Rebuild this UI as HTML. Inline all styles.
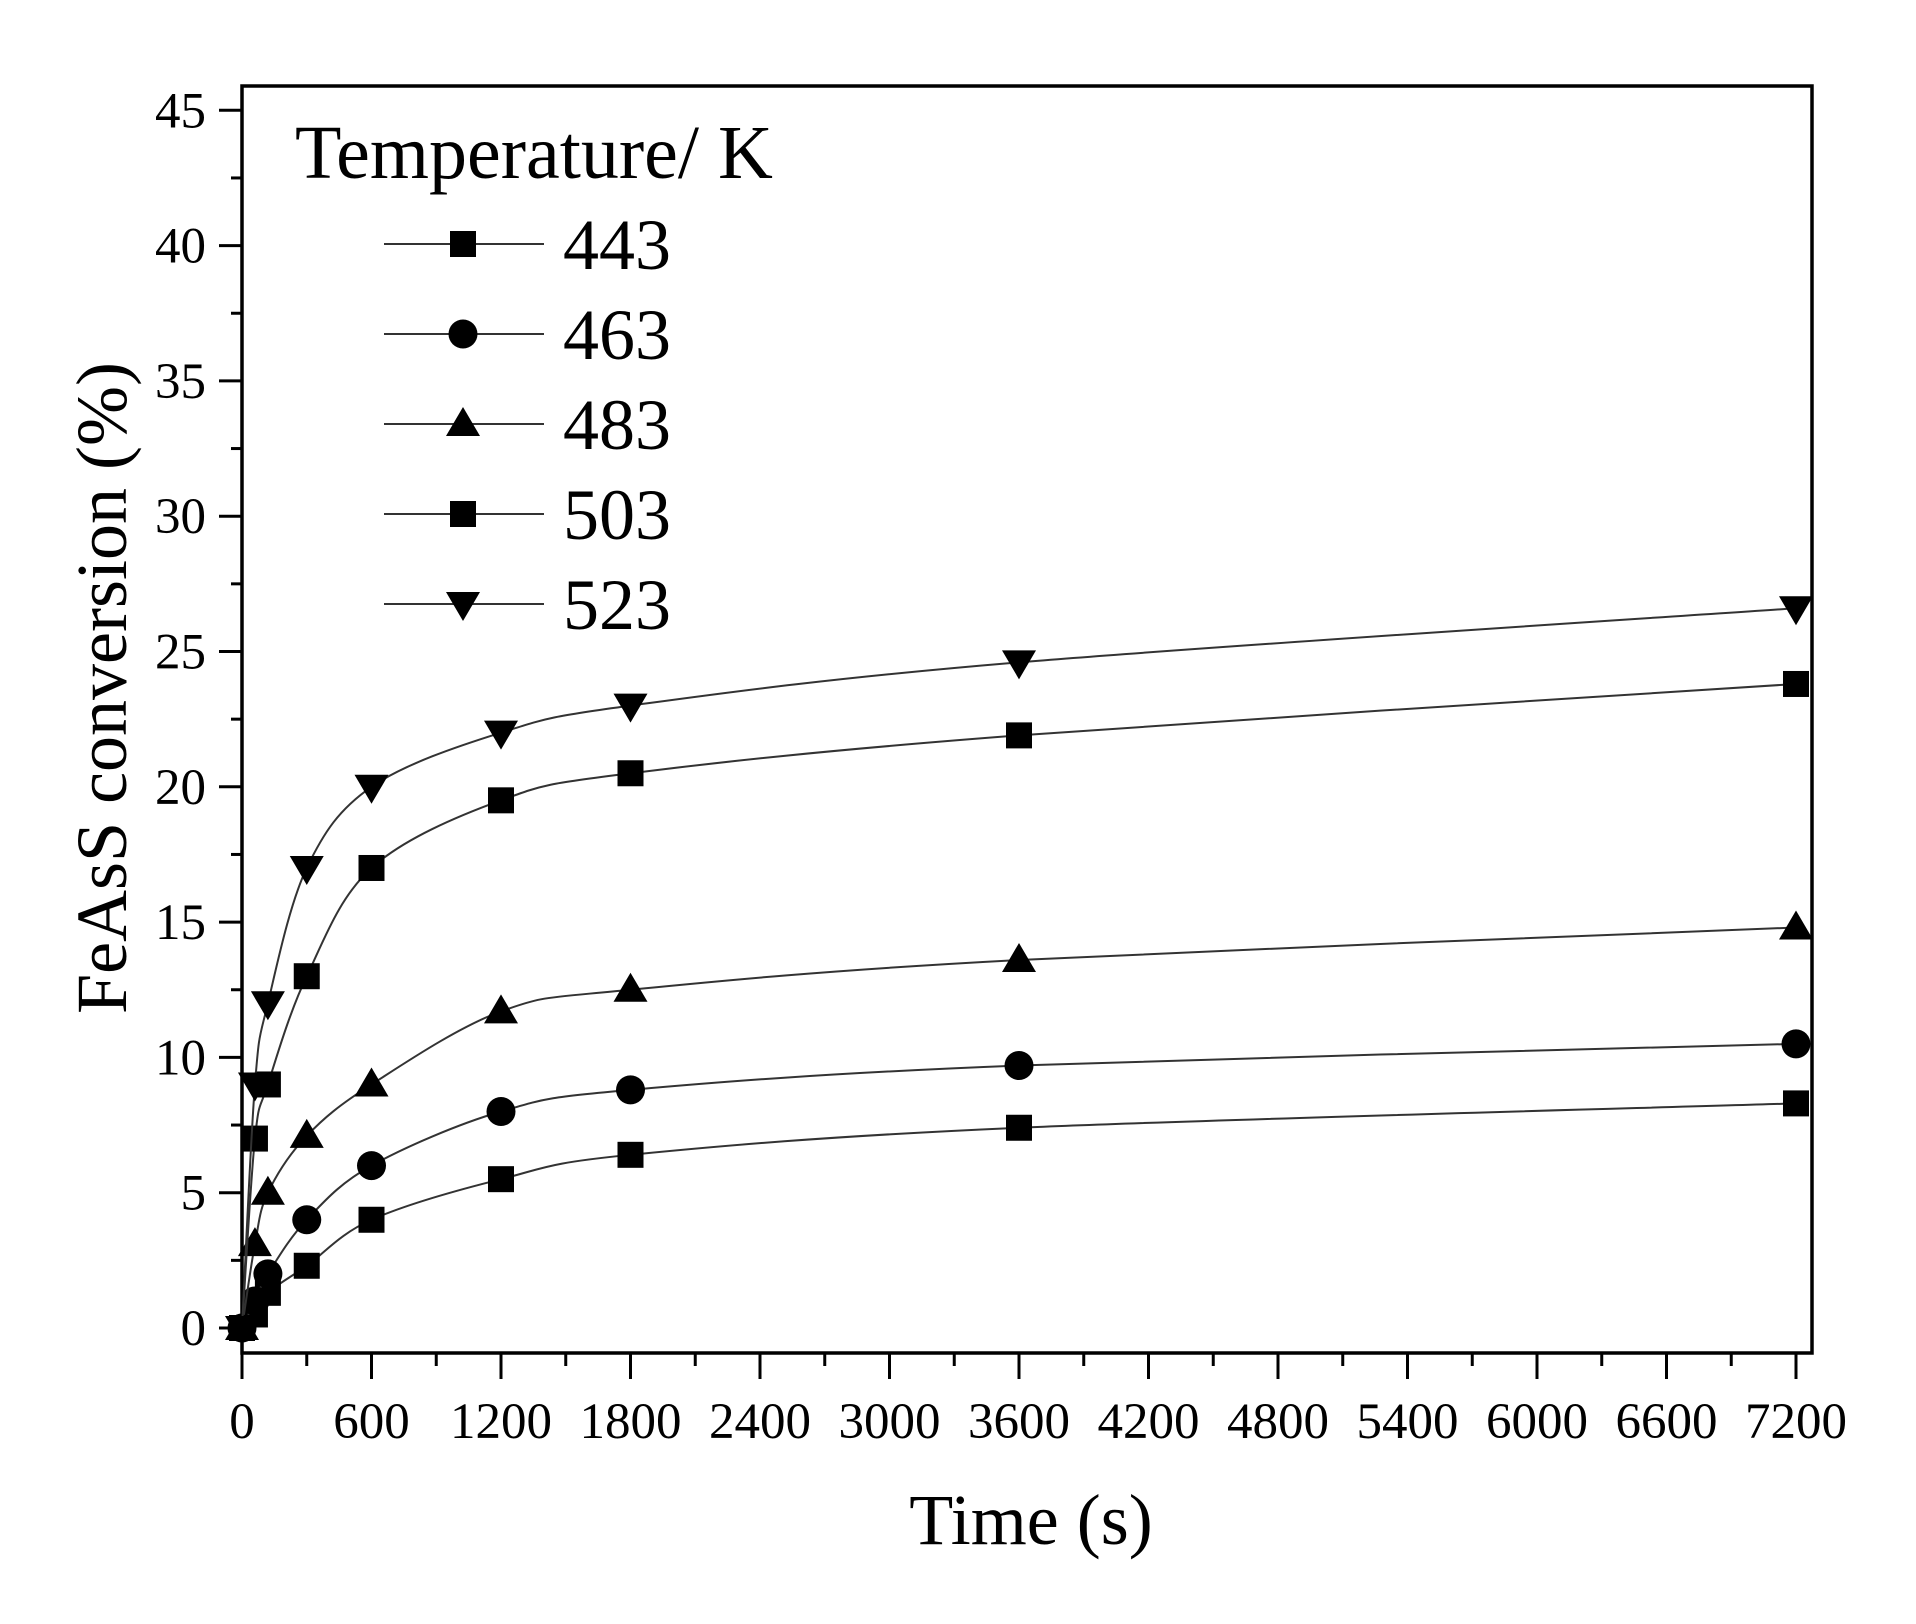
<!DOCTYPE html>
<html><head><meta charset="utf-8"><style>
html,body{margin:0;padding:0;background:#fff;}
svg{display:block;font-family:"Liberation Serif",serif;}
</style></head><body>
<svg id="chart" width="1916" height="1624" viewBox="0 0 1916 1624"></svg>
<script>
const times = [0, 60, 120, 300, 600, 1200, 1800, 3600, 7200];
const series443 = [0, 0.5, 1.3, 2.3, 4.0, 5.5, 6.4, 7.4, 8.3];
const series463 = [0, 1.0, 2.0, 4.0, 6.0, 8.0, 8.8, 9.7, 10.5];
const series483 = [0, 3.1, 5.0, 7.1, 9.0, 11.7, 12.5, 13.6, 14.8];
const series503 = [0, 7.0, 9.0, 13.0, 17.0, 19.5, 20.5, 21.9, 23.8];
const series523 = [0, 9.0, 12.0, 17.0, 20.0, 22.0, 23.0, 24.6, 26.6];
const seriesNames = ["443", "463", "483", "503", "523"];
const xTicks = [0, 600, 1200, 1800, 2400, 3000, 3600, 4200, 4800, 5400, 6000, 6600, 7200];
const yTicks = [0, 5, 10, 15, 20, 25, 30, 35, 40, 45];

const NS = "http://www.w3.org/2000/svg";
const svg = document.getElementById('chart');
const X0 = 242, XPX = 129.5/600, Y0 = 1328, YPX = 135.3/5;
const xs = v => X0 + v * XPX;
const ys = v => Y0 - v * YPX;
function mk(tag, attrs, parent) {
  const e = document.createElementNS(NS, tag);
  for (const k in attrs) e.setAttribute(k, attrs[k]);
  (parent || svg).appendChild(e);
  return e;
}
const frame = mk('rect', {x: 242, y: 86, width: 1579, height: 1267, fill: 'none', stroke: '#000', 'stroke-width': 3.5});
frame.setAttribute('width', 1570);


for (let t = 0; t <= 7200; t += 300) {
  const major = t % 600 === 0;
  const tk = mk('line', {x1: xs(t), x2: xs(t), y1: 1353, y2: 1353 + (major ? 26 : 13), stroke: '#000', 'stroke-width': 3});
  
  
}
xTicks.forEach(t => {
  const tx = mk('text', {x: xs(t), y: 1438, 'font-size': 51, 'text-anchor': 'middle'});
  tx.textContent = t;
  
  
});
for (let v = 0; v <= 45; v += 2.5) {
  const major = v % 5 === 0;
  const tk = mk('line', {x1: 242 - (major ? 23 : 11), x2: 242, y1: ys(v), y2: ys(v), stroke: '#000', 'stroke-width': 3});
  
  
}
yTicks.forEach(v => {
  const tx = mk('text', {x: 206, y: ys(v) + 17, 'font-size': 51, 'text-anchor': 'end'});
  tx.textContent = v;
  
  
});
const xt = mk('text', {x: 1031, y: 1544, 'font-size': 72, 'text-anchor': 'middle'});
xt.textContent = 'Time (s)';


const yt = mk('text', {x: 0, y: 0, 'font-size': 72, 'text-anchor': 'middle', transform: 'translate(126,688) rotate(-90)'});
yt.textContent = 'FeAsS conversion (%)';



function marker(type, cx, cy, parent) {
  if (type === 'square') return mk('rect', {x: cx - 13, y: cy - 13, width: 26, height: 26, fill: '#000'}, parent);
  if (type === 'circle') return mk('circle', {cx: cx, cy: cy, r: 14.5, fill: '#000'}, parent);
  if (type === 'up') return mk('polygon', {points: `${cx},${cy-17} ${cx+17},${cy+12} ${cx-17},${cy+12}`, fill: '#000'}, parent);
  return mk('polygon', {points: `${cx},${cy+17} ${cx+17},${cy-12} ${cx-17},${cy-12}`, fill: '#000'}, parent);
}
function smoothPath(pts) {
  let d = `M${pts[0][0]},${pts[0][1]}`;
  for (let i = 0; i < pts.length - 1; i++) {
    const p0 = pts[Math.max(0, i-1)], p1 = pts[i], p2 = pts[i+1], p3 = pts[Math.min(pts.length-1, i+2)];
    const c1 = [p1[0] + (p2[0]-p0[0])/6, p1[1] + (p2[1]-p0[1])/6];
    const c2 = [p2[0] - (p3[0]-p1[0])/6, p2[1] - (p3[1]-p1[1])/6];
    d += ` C${c1[0]},${c1[1]} ${c2[0]},${c2[1]} ${p2[0]},${p2[1]}`;
  }
  return d;
}
const allSeries = [series443, series463, series483, series503, series523];
const types = ['square', 'circle', 'up', 'square', 'down'];
allSeries.forEach((s, si) => {
  const g = mk('g', {});
  
  
  const pts = times.map((t, i) => [xs(t), ys(s[i])]);
  const p = mk('path', {d: smoothPath(pts), fill: 'none', stroke: '#333', 'stroke-width': 2}, g);
  
  
  pts.forEach(pt => {
    const m = marker(types[si], pt[0], pt[1], g);
    
    
  });
});
const lg = mk('g', {});


const lt = mk('text', {x: 295, y: 178, 'font-size': 76}, lg);
lt.textContent = 'Temperature/ K';


seriesNames.forEach((n, i) => {
  const y = 244 + i * 90;
  const e = mk('g', {}, lg);
  
  
  mk('line', {x1: 384, x2: 544, y1: y, y2: y, stroke: '#333', 'stroke-width': 2}, e);
  marker(types[i], 463, y, e);
  const t = mk('text', {x: 563, y: y + 25, 'font-size': 72}, e);
  t.textContent = n;
});
</script>
</body></html>
